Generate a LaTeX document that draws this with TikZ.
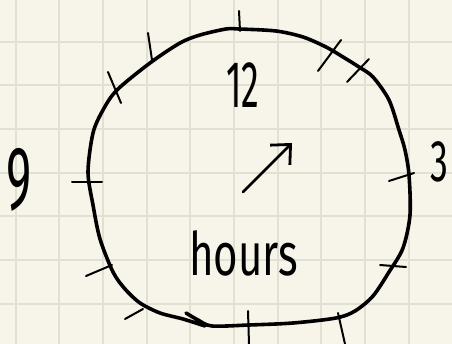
\documentclass[tikz,border=0pt]{standalone}
\usepackage{fontspec}
\usepackage{graphicx}
\newfontfamily\hand{Fira Sans}
\usepackage{tikz}
\usetikzlibrary{positioning, arrows.meta}
\definecolor{papier}{HTML}{F7F5EA}
\definecolor{raster}{HTML}{E2E0D3}

\begin{document}
\begin{tikzpicture}[x=1pt, y=-1pt,
    rahmen/.style={line width=3.6pt, line cap=round, line join=round},
    strich/.style={line width=2pt, line cap=round},
    gitter/.style={draw=raster, line width=1.8pt},
    zahl/.style={inner sep=0pt, anchor=south west},
    zeiger/.style={line width=2.8pt, line cap=round, -{Straight Barb[length=15pt, width=28pt]}}
  ]

  % Papier
  \fill[papier] (0,0) rectangle (452,344);
  \useasboundingbox (0,0) rectangle (452,344);
  \foreach \i in {0,...,10}
    \draw[gitter] ({15.7+43.67*\i},0) -- ++(0,344);
  \foreach \j in {1,...,7}
    \draw[gitter] (0,{-2+43.67*\j}) -- ++(452,0);

  % Zifferblatt
  \draw[rahmen] plot[smooth] coordinates {(186,313) (198,320) (212,326) (249,325) (293,323)
    (336,318) (355,311) (373,296) (389,272) (403,248) (410,215) (409,175) (405,150) (399,130)
    (389,100) (373,77) (359,67) (343,57) (326,47) (303,37) (276,31) (239,29) (226,29) (200,35)
    (180,43) (150,63) (117,90) (103,110) (93,133) (88,172) (93,205) (100,239) (113,272)
    (125,289) (140,303) (160,313) (183,319) (205,326)};

  % Striche
  \foreach \ax/\ay/\bx/\by in {239/11/240/31, 148/33/152/60, 108/72/121/103, 341/40/318/71,
      369/59/347/82, 389/181/414/173, 380/265/406/267, 338/313/345/344, 248/311/249/344,
      72/182/102/182, 86/276/112/265, 125/319/143/309}
    \draw[strich] (\ax,\ay) -- (\bx,\by);

  % Zeiger
  \coordinate (m) at (243,192);
  \coordinate (z) at (292,143);
  \draw[zeiger] (m) -- (z);

  % Beschriftung
  \node[zahl, font={\hand\fontsize{60}{60}\selectfont}] (n9) at (6,212) {\scalebox{0.8}[1.5]{9}};
  \node[zahl, font={\hand\fontsize{42}{42}\selectfont}] (n3) at (430,182) {\scalebox{0.85}[1.4]{3}};
  \node[zahl, font={\hand\fontsize{55}{55}\selectfont}] (n12) at (226,108) {\scalebox{0.65}[1.2]{12}};
  \node[zahl, font={\hand\fontsize{60}{60}\selectfont}] (h1) at (189,276) {\scalebox{0.7}[1]{hours}};

\end{tikzpicture}
\end{document}
